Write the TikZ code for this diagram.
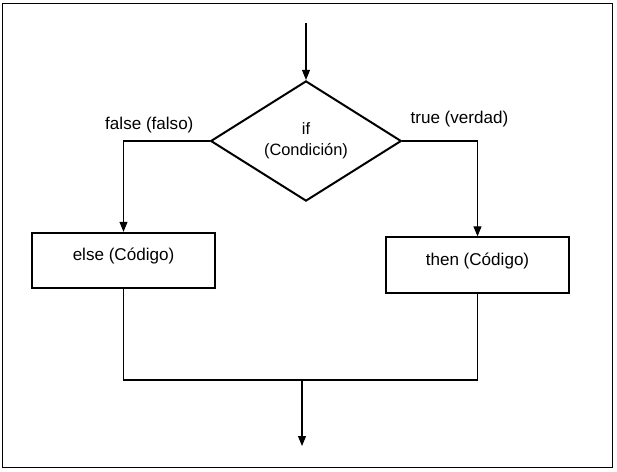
\documentclass[tikz,border=0pt]{standalone}
\usepackage{fontspec}
\setmainfont{Liberation Sans}
\usetikzlibrary{shapes.geometric, arrows.meta, positioning}

\begin{document}
\begin{tikzpicture}[x=0.75pt, y=-0.75pt,
    decision/.style={draw, diamond, line width=1.5pt, minimum width=143pt, minimum height=88.5pt, inner sep=0pt, align=center, font=\fontsize{12.3}{15.75}\selectfont},
    box/.style={draw, line width=1.5pt, minimum width=137pt, minimum height=41.5pt, text height=10pt, text depth=10pt, font=\fontsize{12.8}{15}\selectfont},
    lbl/.style={font=\fontsize{12.8}{15}\selectfont},
    arrow/.style={-{Triangle[width=6pt,length=7.5pt]}, line width=0.8pt},
    line/.style={line width=0.8pt}
]
    \useasboundingbox (0,0) rectangle (617,471);
    \draw[line width=0.75pt] (2,3) rectangle (612,467);

    \coordinate (start)  at (306,23);
    \node[decision] (cond) at (306,141) {if\\(Condición)};
    \node[box] (elsebox) at (123.5,260.5) {else (Código)};
    \node[box] (thenbox) at (477.5,265) {then (Código)};
    \coordinate (merge)  at (302,380);
    \coordinate (finish) at (302,446);

    \draw[arrow] (start) -- (cond.north);
    \draw[arrow] (cond.west) -| node[lbl, pos=0.35, above=2pt]{false (falso)} (elsebox.north);
    \draw[arrow] (cond.east) -| node[lbl, pos=0.38, above=7pt]{true (verdad)} (thenbox.north);
    \draw[line] (elsebox.south) |- (merge);
    \draw[line] (thenbox.south) |- (merge);
    \draw[arrow] (merge) -- (finish);
\end{tikzpicture}
\end{document}
